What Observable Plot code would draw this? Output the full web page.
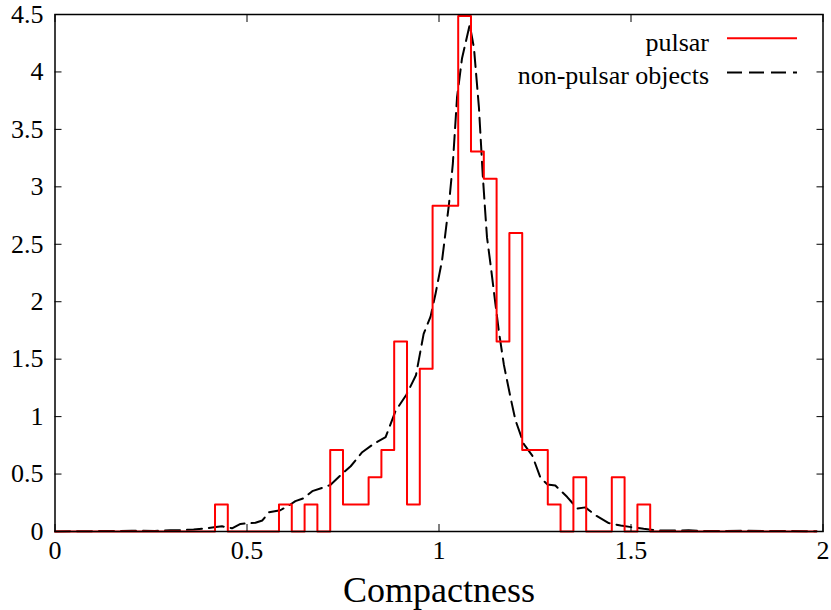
<!DOCTYPE html>
<html>
<head>
<meta charset="utf-8">
<script src="https://cdn.jsdelivr.net/npm/d3@7"></script>
<script src="https://cdn.jsdelivr.net/npm/@observablehq/plot@0.6"></script>
<style>
  html, body { margin: 0; padding: 0; background: #fff; }
  #chart { width: 831px; height: 610px; overflow: hidden; }
</style>
</head>
<body>
<div id="chart"></div>
<script>
// ---- data ----
const xTicks = [0, 0.5, 1, 1.5, 2];
const yTicks = [0, 0.5, 1, 1.5, 2, 2.5, 3, 3.5, 4, 4.5];
const xLabel = "Compactness";
const seriesNames = ["pulsar", "non-pulsar objects"];

// pulsar histogram: non-empty bins (lower edge) and their density
const binWidth = 0.0333;
const pulsarBinStart = [0.4167, 0.5833, 0.65, 0.7167, 0.75, 0.7833, 0.8167, 0.85, 0.8833, 0.9167,
  0.95, 0.9833, 1.0167, 1.05, 1.0833, 1.1167, 1.15, 1.1833, 1.2167, 1.25, 1.2833, 1.35, 1.45, 1.5167];
const pulsarDensity = [0.236, 0.236, 0.236, 0.709, 0.236, 0.236, 0.472, 0.709, 1.654, 0.236,
  1.417, 2.835, 2.835, 4.488, 3.307, 3.071, 1.654, 2.598, 0.709, 0.709, 0.236, 0.472, 0.472, 0.236];
const pulsarRange = [0, 1.9833];

// non-pulsar objects: density curve
const otherX = [0, 0.1, 0.2, 0.26, 0.3, 0.327, 0.361, 0.388, 0.414, 0.435, 0.461, 0.483, 0.522, 0.54,
  0.557, 0.587, 0.613, 0.626, 0.648, 0.67, 0.696, 0.717, 0.743, 0.77, 0.8, 0.83, 0.861, 0.887, 0.915,
  0.94, 0.96, 0.978, 0.991, 1.008, 1.026, 1.036, 1.047, 1.06, 1.08, 1.091, 1.104, 1.114, 1.12, 1.125,
  1.134, 1.147, 1.156, 1.169, 1.186, 1.199, 1.221, 1.243, 1.264, 1.282, 1.303, 1.334, 1.36, 1.381,
  1.408, 1.442, 1.473, 1.503, 1.533, 1.568, 1.6, 1.65, 1.7, 1.8, 1.9, 1.983];
const otherY = [0, 0.003, 0.006, 0.005, 0.01, 0.012, 0.017, 0.026, 0.037, 0.045, 0.028, 0.066, 0.076, 0.096,
  0.168, 0.185, 0.235, 0.264, 0.29, 0.351, 0.38, 0.405, 0.487, 0.568, 0.69, 0.763, 0.821, 1.05, 1.19,
  1.36, 1.72, 1.87, 2.07, 2.36, 2.85, 3.2, 3.78, 4.12, 4.41, 4.21, 3.69, 3.1, 2.8, 2.56,
  2.33, 1.98, 1.74, 1.45, 1.17, 0.97, 0.76, 0.66, 0.47, 0.41, 0.4, 0.3, 0.2, 0.21,
  0.14, 0.073, 0.052, 0.037, 0.023, 0.01, 0.008, 0.01, 0.004, 0.006, 0.004, 0.002];

// ---- build tables ----
const steps = [[pulsarRange[0], 0]];
pulsarBinStart.forEach((x0, i) => {
  const last = steps[steps.length - 1];
  if (Math.abs(last[0] - x0) < 1e-3) steps.pop();
  steps.push([x0, pulsarDensity[i]]);
  steps.push([x0 + binWidth, 0]);
});
steps.push([pulsarRange[1], 0]);
const pulsarSteps = steps.map(([x, y]) => ({x, y}));
const other = otherX.map((x, i) => ({x, y: otherY[i]}));

const fmt = d => String(d);
const W = 831, H = 610;

const chart = Plot.plot({
  width: W,
  height: H,
  marginLeft: 54.5,
  marginRight: 8.5,
  marginTop: 14,
  marginBottom: 79,
  style: {fontFamily: "'Liberation Serif', 'Times New Roman', serif", fontSize: "26px", color: "#000", background: "#fff"},
  x: {domain: [0, 2]},
  y: {domain: [0, 4.5]},
  marks: [
    Plot.line(other, {x: "x", y: "y", stroke: "#000", strokeWidth: 2, strokeDasharray: "15,7"}),
    Plot.line(pulsarSteps, {x: "x", y: "y", curve: "step-after", stroke: "#ff0000", strokeWidth: 2}),
    Plot.frame({stroke: "#000", strokeWidth: 1.5}),
    Plot.axisX({ticks: xTicks, tickFormat: fmt, tickSize: -7, tickPadding: 16, label: null, fontSize: 26}),
    Plot.axisX({anchor: "top", ticks: xTicks, tickFormat: () => "", tickSize: -7, label: null}),
    Plot.axisY({ticks: yTicks, tickFormat: fmt, tickSize: -7, tickPadding: 18.5, label: null, fontSize: 26}),
    Plot.axisY({anchor: "right", ticks: yTicks, tickFormat: () => "", tickSize: -7, label: null}),
    Plot.text([xLabel], {frameAnchor: "bottom", dy: 70, lineAnchor: "bottom", fontSize: 36})
  ]
});
document.getElementById("chart").appendChild(chart);

// ---- key (top right, inside the frame) ----
const svg = d3.select(chart);
const key = svg.append("g")
  .attr("font-family", "'Liberation Serif', 'Times New Roman', serif")
  .attr("font-size", 26);
const keyRows = [
  {name: seriesNames[0], stroke: "#ff0000", dash: null, ly: 38.3, ty: 51},
  {name: seriesNames[1], stroke: "#000", dash: "15,7", ly: 72.5, ty: 84}
];
keyRows.forEach(r => {
  key.append("text").attr("x", 709).attr("y", r.ty).attr("text-anchor", "end").attr("fill", "#000").text(r.name);
  key.append("line").attr("x1", 727).attr("x2", 797).attr("y1", r.ly).attr("y2", r.ly)
    .attr("stroke", r.stroke).attr("stroke-width", 2).attr("stroke-dasharray", r.dash);
});
</script>
</body>
</html>
